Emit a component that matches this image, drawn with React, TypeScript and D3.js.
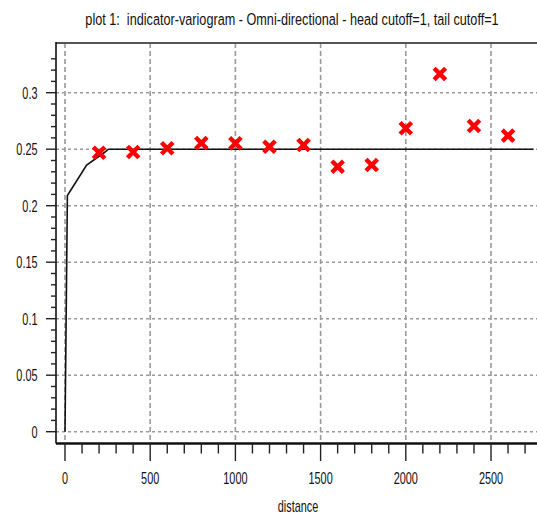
import React from "react";
import * as d3 from "d3";

const lagDistances = [200, 400, 600, 800, 1000, 1200, 1400, 1600, 1800, 2000, 2200, 2400, 2600];
const variogramValues = [0.2469, 0.2475, 0.2508, 0.2555, 0.2552, 0.2522, 0.2537, 0.2345, 0.236, 0.2685, 0.3166, 0.2705, 0.262];

const modelDistances = [0, 14, 127, 235, 255, 2750];
const modelValues = [0, 0.209, 0.236, 0.2475, 0.25, 0.25];

const xTickValues = [0, 500, 1000, 1500, 2000, 2500];
const yTickValues = [0, 0.05, 0.1, 0.15, 0.2, 0.25, 0.3];
const yTickLabels = ["0", "0.05", "0.1", "0.15", "0.2", "0.25", "0.3"];

const titleText = "plot 1:\u00a0 indicator-variogram - Omni-directional - head cutoff=1, tail cutoff=1";
const xAxisTitle = "distance";

const W = 537;
const H = 518;

export default function App() {
  const x = d3.scaleLinear().domain([0, 2500]).range([65, 491]);
  const y = d3.scaleLinear().domain([0, 0.3]).range([431.7, 92.7]);

  const left = 56;
  const top = 43;
  const axisY = 443.5;
  const right = W;

  const xMinor = d3.range(0, 2800, 100);
  const yMinor = d3.range(0, 34).map((i) => i / 100);

  const line = d3
    .line<number>()
    .x((_, i) => x(modelDistances[i]))
    .y((d) => y(d));

  const font = "'Liberation Sans', Arial, sans-serif";
  const sx = 0.64;

  const marker = "M-4.2,-4.2L4.2,4.2M-4.2,4.2L4.2,-4.2";

  return (
    <svg
      width={W}
      height={H}
      style={{ position: "absolute", left: 0, top: 0, background: "#fff" }}
    >
      <rect x={0} y={0} width={W} height={H} fill="#fff" />
      {/* title */}
      <text
        transform={`translate(292,25) scale(0.745,1)`}
        textAnchor="middle"
        fontFamily={font}
        fontSize={17}
        fill="#111"
      >
        {titleText}
      </text>

      {/* horizontal gridlines */}
      {yTickValues.map((v) => (
        <line
          key={"hg" + v}
          x1={left}
          x2={right}
          y1={y(v)}
          y2={y(v)}
          stroke="#9a9a9a"
          strokeWidth={1.6}
          strokeDasharray="3,3"
        />
      ))}
      {/* vertical gridlines */}
      {xTickValues.map((v) => (
        <line
          key={"vg" + v}
          x1={x(v)}
          x2={x(v)}
          y1={top}
          y2={axisY}
          stroke="#9a9a9a"
          strokeWidth={1.6}
          strokeDasharray="5,3"
        />
      ))}

      {/* top border */}
      <line x1={left} x2={right} y1={top} y2={top} stroke="#555" strokeWidth={2} />
      {/* left axis */}
      <line x1={left} x2={left} y1={top - 1} y2={axisY} stroke="#111" strokeWidth={1.6} />
      {yMinor.map((v, i) => (
        <line
          key={"ym" + i}
          x1={i % 5 === 0 ? 46 : 51}
          x2={left}
          y1={y(v)}
          y2={y(v)}
          stroke="#222"
          strokeWidth={1.4}
        />
      ))}
      {yTickValues.map((v, i) => (
        <text
          key={"yl" + v}
          transform={`translate(37.5,${y(v) + 6}) scale(${sx},1)`}
          textAnchor="end"
          fontFamily={font}
          fontSize={17}
          fill="#111"
        >
          {yTickLabels[i]}
        </text>
      ))}

      {/* bottom axis */}
      <line x1={left} x2={right} y1={axisY} y2={axisY} stroke="#111" strokeWidth={2.6} />
      {xMinor.map((v) => (
        <line
          key={"xm" + v}
          x1={x(v)}
          x2={x(v)}
          y1={axisY}
          y2={v % 500 === 0 ? 461 : 453.5}
          stroke="#222"
          strokeWidth={1.4}
        />
      ))}
      {xTickValues.map((v) => (
        <text
          key={"xl" + v}
          transform={`translate(${x(v)},${483.5}) scale(${sx},1)`}
          textAnchor="middle"
          fontFamily={font}
          fontSize={17}
          fill="#111"
        >
          {String(v)}
        </text>
      ))}
      <text
        transform={`translate(298,512) scale(${sx},1)`}
        textAnchor="middle"
        fontFamily={font}
        fontSize={17}
        fill="#111"
      >
        {xAxisTitle}
      </text>

      {/* model line */}
      <path d={line(modelValues) || ""} fill="none" stroke="#111" strokeWidth={1.6} />

      {/* experimental points */}
      {lagDistances.map((d, i) => (
        <path
          key={"p" + d}
          d={marker}
          transform={`translate(${x(d)},${y(variogramValues[i])})`}
          stroke="#ff0000"
          strokeWidth={4.4}
          strokeLinecap="square"
          fill="none"
        />
      ))}
    </svg>
  );
}
